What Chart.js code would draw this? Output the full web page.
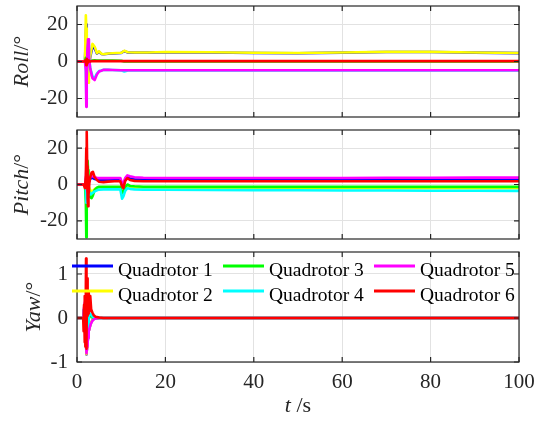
<!DOCTYPE html>
<html>
<head>
<meta charset="utf-8">
<script src="https://cdn.jsdelivr.net/npm/chart.js@4.4.0/dist/chart.umd.min.js"></script>
<style>
html, body { margin: 0; padding: 0; background: #fff; }
#wrap { position: relative; width: 545px; height: 423px; overflow: hidden; }
canvas { position: absolute; left: 0; }
</style>
</head>
<body>
<div id="wrap">
  <canvas id="rollChart" width="545" height="124" style="top:0px"></canvas>
  <canvas id="pitchChart" width="545" height="122" style="top:124px"></canvas>
  <canvas id="yawChart" width="545" height="177" style="top:246px"></canvas>
</div>
<script>
// --- datos ---
const labels = ['Quadrotor 1', 'Quadrotor 2', 'Quadrotor 3', 'Quadrotor 4', 'Quadrotor 5', 'Quadrotor 6'];
const colors = ['#0000ff', '#ffff00', '#00ff00', '#00ffff', '#ff00ff', '#ff0000'];
const xTicks = [0, 20, 40, 60, 80, 100];
const angleTicks = [-20, 0, 20];
const yawTicks = [-1, 0, 1];

// Roll
const tRoll = [0, 1.8, 2.0, 2.1, 2.2, 2.35, 2.5, 2.7, 3.0, 3.5, 4.0, 4.5, 5.0, 5.5, 6.0, 7.0, 8.0, 10, 10.7, 11.5, 13, 16, 20, 30, 40, 50, 60, 70, 80, 90, 100];
const roll1 = [0, 0, 15, 20, 8, -5, -8, -2, 2.5, 8, 7, 4.3, 5.2, 4.1, 3.9, 4.2, 4.4, 4.6, 5.6, 4.9, 4.8, 4.8, 5.0, 4.9, 4.6, 4.5, 4.8, 5.1, 5.1, 4.8, 4.5];
const roll2 = [0, 0, 25, 18, 5, -8, -11.5, -3, 3, 9.5, 8, 4.5, 5.5, 4.2, 3.9, 4.3, 4.5, 4.7, 5.8, 5.0, 4.9, 4.9, 5.1, 5.0, 4.7, 4.6, 4.9, 5.2, 5.2, 4.9, 4.6];
const roll3 = [0, 0, 2, -3, 2, -1, 1, 0.5, 0.3, 0.5, 0.6, 0.5, 0.5, 0.5, 0.5, 0.5, 0.5, 0.4, 0, 0, 0, 0, 0, 0, 0, 0, 0, 0, 0, 0, 0];
const roll4 = [0, 0, -3, -18, -8, 4, 9, 2, -3.5, -8, -9, -6.5, -5.2, -4.9, -4.5, -4.5, -4.6, -4.8, -5.4, -4.9, -4.8, -4.8, -4.8, -4.8, -4.8, -4.8, -4.8, -4.8, -4.8, -4.8, -4.8];
const roll5 = [0, 0, -5, -24.5, -10, 6, 12, 3, -4, -9, -10, -7, -5.4, -5.0, -4.5, -4.5, -4.6, -4.7, -4.7, -4.7, -4.7, -4.7, -4.7, -4.7, -4.7, -4.7, -4.7, -4.7, -4.7, -4.7, -4.7];
const roll6 = [0, 0, 1, -2, 1.5, -1, 0.5, 0, 0, 0.3, 0.2, 0.2, 0.2, 0.2, 0.2, 0.2, 0.2, 0.2, 0.2, 0.2, 0.2, 0.2, 0.2, 0.2, 0.2, 0.2, 0.2, 0.2, 0.2, 0.2, 0.2];

// Pitch
const tPitch = [0, 1.5, 1.8, 2.0, 2.1, 2.2, 2.3, 2.4, 2.5, 2.6, 2.8, 3.0, 3.3, 3.6, 4.0, 4.5, 5.0, 6.0, 7.0, 8.5, 9.8, 10.2, 10.5, 10.9, 11.4, 12.0, 13.0, 15, 20, 30, 40, 50, 60, 70, 80, 90, 100];
const pitch1 = [0, 0, 0, 1, 5, 2, -2, -3, -1, 1, 2, 3, 4, 3.5, 3, 2.7, 2.6, 2.6, 2.6, 2.6, 2.6, -0.5, 0, 2.5, 3.8, 3.3, 2.9, 2.7, 2.6, 2.6, 2.6, 2.6, 2.6, 2.6, 2.6, 2.6, 2.6];
const pitch2 = [0, 0, 0, -2, -6, -3, 2, 3, 1, -1, -2, -3, -4, -3.5, -2.5, -2, -1.8, -1.8, -1.8, -1.8, -1.8, -5.5, -4.5, -2, -0.8, -1.4, -1.7, -1.8, -1.8, -1.8, -1.9, -2.0, -2.0, -2.0, -2.0, -2.0, -2.0];
const pitch3 = [0, 0, 0, -10, -29, -15, 5, 13, 8, 0, -5, -7, -7.5, -6, -3, -1.8, -1.2, -1.2, -1.2, -1.2, -1.2, -4.5, -4, -1.5, 0, -0.8, -1.0, -1.2, -1.3, -1.3, -1.3, -1.3, -1.3, -1.3, -1.3, -1.3, -1.3];
const pitch4 = [0, 0, 0, -3, -10, -6, 2, 3, 0, -3, -5, -5.5, -5, -4.5, -3.8, -3.2, -2.8, -2.7, -2.7, -2.7, -2.7, -7.8, -6.5, -3.5, -2, -2.4, -2.7, -2.8, -2.9, -3.0, -3.1, -3.2, -3.3, -3.3, -3.4, -3.4, -3.5];
const pitch5 = [0, 0, 0, 2, 8, 4, -3, -4, -1, 1, 3, 4, 5, 4.5, 4, 3.7, 3.5, 3.5, 3.5, 3.6, 3.6, 0.5, 1, 3.5, 5, 4.5, 4, 3.7, 3.6, 3.6, 3.6, 3.6, 3.6, 3.7, 3.7, 3.8, 3.8];
const pitch6 = [0, 0, -2, 5, 20, 29, 10, -8, -12, -6, 1, 4, 6.5, 7, 4, 2.5, 1.5, 1.3, 1.6, 1.8, 1.8, -1, -2, 2, 3.5, 2.5, 2.0, 1.8, 1.8, 1.8, 1.8, 1.8, 1.8, 1.8, 1.8, 1.8, 1.8];

// Yaw
const tYaw = [0, 1.4, 1.5, 1.6, 1.7, 1.8, 1.9, 2.0, 2.05, 2.1, 2.15, 2.2, 2.3, 2.4, 2.5, 2.6, 2.7, 2.8, 3.0, 3.2, 3.5, 3.8, 4.2, 5.0, 6.0, 8, 10, 20, 40, 60, 80, 100];
const yaw1 = [0, 0, 0.05, 0.2, 0.3, 0.18, -0.1, -0.42, -0.62, -0.8, -0.83, -0.8, -0.66, -0.55, -0.45, -0.37, -0.3, -0.24, -0.16, -0.1, -0.05, -0.02, -0.01, 0, 0, 0, 0, 0, 0, 0, 0, 0];
const yaw2 = [0, 0, 0.05, 0.15, 0.25, 0.15, -0.1, -0.4, -0.6, -0.78, -0.82, -0.8, -0.66, -0.55, -0.45, -0.37, -0.3, -0.24, -0.16, -0.1, -0.05, -0.02, -0.01, 0, 0, 0, 0, 0, 0, 0, 0, 0];
const yaw3 = [0, 0, 0.05, 0.2, 0.3, 0.15, -0.1, -0.35, -0.5, -0.6, -0.6, -0.5, -0.35, -0.2, -0.08, 0, 0.05, 0.06, 0.05, 0.03, 0.01, 0, 0, 0, 0, 0, 0, 0, 0, 0, 0, 0];
const yaw4 = [0, 0, 0.05, 0.2, 0.3, 0.15, -0.1, -0.35, -0.5, -0.6, -0.62, -0.55, -0.4, -0.25, -0.1, 0.02, 0.08, 0.1, 0.1, 0.07, 0.03, 0.01, 0, 0, 0, 0, 0, 0, 0, 0, 0, 0];
const yaw5 = [0, 0, 0.1, 0.25, 0.35, 0.2, -0.1, -0.4, -0.6, -0.75, -0.8, -0.78, -0.65, -0.55, -0.45, -0.38, -0.3, -0.25, -0.17, -0.12, -0.06, -0.03, -0.01, 0, 0, 0, 0, 0, 0, 0, 0, 0];
const yaw6 = [0, 0, -0.3, 0.3, -0.55, 0.5, -0.65, 0.7, 1.35, -0.7, 1.0, -0.5, 0.9, 0.05, 0.6, 0.1, 0.58, 0.15, 0.5, 0.2, 0.12, 0.06, 0.03, 0.01, 0, 0, 0, 0, 0, 0, 0, 0];

// --- estilo ---
const FONT = "'Liberation Serif', 'Times New Roman', serif";
const INK = '#262626';
const GRID = '#e2e2e2';
Chart.defaults.font.family = FONT;

// texto con partes en cursiva / normal
function drawMixed(ctx, parts, size, cx, cy, rotate) {
    ctx.save();
    ctx.translate(cx, cy);
    if (rotate) ctx.rotate(-Math.PI / 2);
    const fonts = parts.map(p => (p[1] ? 'italic ' : '') + size + 'px ' + FONT);
    const widths = parts.map((p, i) => { ctx.font = fonts[i]; return ctx.measureText(p[0]).width; });
    let x = -widths.reduce((a, b) => a + b, 0) / 2;
    ctx.textAlign = 'left';
    ctx.textBaseline = 'middle';
    ctx.fillStyle = INK;
    parts.forEach((p, i) => { ctx.font = fonts[i]; ctx.fillText(p[0], x, 0); x += widths[i]; });
    ctx.restore();
}

// marco, ticks hacia dentro, títulos y leyenda
const framePlugin = {
    id: 'frame',
    afterDraw(chart, args, opts) {
        const { ctx, chartArea: a, scales } = chart;
        ctx.save();
        ctx.strokeStyle = INK;
        ctx.lineWidth = 1.2;
        ctx.strokeRect(a.left, a.top, a.right - a.left, a.bottom - a.top);
        ctx.beginPath();
        scales.x.ticks.forEach(t => {
            const px = scales.x.getPixelForValue(t.value);
            ctx.moveTo(px, a.bottom); ctx.lineTo(px, a.bottom - 5);
            ctx.moveTo(px, a.top); ctx.lineTo(px, a.top + 5);
        });
        scales.y.ticks.forEach(t => {
            const py = scales.y.getPixelForValue(t.value);
            ctx.moveTo(a.left, py); ctx.lineTo(a.left + 5, py);
            ctx.moveTo(a.right, py); ctx.lineTo(a.right - 5, py);
        });
        ctx.stroke();
        ctx.restore();

        drawMixed(ctx, opts.yTitle, 22, a.left - opts.yTitleOffset, (a.top + a.bottom) / 2, true);

        if (opts.xTitle) {
            drawMixed(ctx, opts.xTitle, 22, (a.left + a.right) / 2, a.bottom + 44, false);
        }

        if (opts.legend) {
            // orden por columnas: 1,2 | 3,4 | 5,6
            ctx.save();
            ctx.font = '19.5px ' + FONT;
            ctx.textBaseline = 'alphabetic';
            ctx.textAlign = 'left';
            labels.forEach((lab, i) => {
                const col = Math.floor(i / 2), row = i % 2;
                const x0 = a.left - 5 + col * 151;
                const y0 = a.top + 14 + row * 25;
                ctx.strokeStyle = colors[i];
                ctx.lineWidth = 3;
                ctx.beginPath();
                ctx.moveTo(x0, y0); ctx.lineTo(x0 + 41, y0);
                ctx.stroke();
                ctx.fillStyle = '#000';
                ctx.fillText(lab, x0 + 46, y0 + 10);
            });
            ctx.restore();
        }
    }
};

function makeDatasets(t, series) {
    // Q6 encima (el primer dataset se dibuja arriba en Chart.js)
    return series.map((vals, i) => ({
        label: labels[i],
        data: t.map((x, k) => ({ x: x, y: vals[k] })),
        borderColor: colors[i],
        borderWidth: 2.6,
        pointRadius: 0,
        tension: 0,
        fill: false,
        borderJoinStyle: 'round'
    })).reverse();
}

function makeChart(id, t, series, yMin, yMax, yTicks, frameOpts, bottomAxis, xHeight) {
    return new Chart(document.getElementById(id), {
        type: 'line',
        data: { datasets: makeDatasets(t, series) },
        options: {
            responsive: false,
            animation: false,
            events: [],
            layout: { padding: { top: 6, right: 26, left: 0, bottom: 0 } },
            plugins: {
                legend: { display: false },
                tooltip: { enabled: false },
                frame: frameOpts
            },
            scales: {
                x: {
                    type: 'linear',
                    min: 0,
                    max: 100,
                    afterBuildTicks: s => { s.ticks = xTicks.map(v => ({ value: v })); },
                    afterFit: s => { s.height = xHeight; s.paddingLeft = 0; s.paddingRight = 0; },
                    grid: { color: GRID, drawTicks: false },
                    border: { display: false },
                    ticks: {
                        display: bottomAxis,
                        padding: 8,
                        color: INK,
                        font: { size: 21 },
                        maxRotation: 0
                    }
                },
                y: {
                    min: yMin,
                    max: yMax,
                    afterBuildTicks: s => { s.ticks = yTicks.map(v => ({ value: v })); },
                    afterFit: s => { s.width = 77; s.paddingTop = 0; s.paddingBottom = 0; },
                    grid: { color: GRID, drawTicks: false },
                    border: { display: false },
                    ticks: { padding: 9, color: INK, font: { size: 21 } }
                }
            }
        },
        plugins: [framePlugin]
    });
}

makeChart('rollChart', tRoll, [roll1, roll2, roll3, roll4, roll5, roll6], -30, 30, angleTicks,
    { yTitle: [['Roll', true], ['/°', false]], yTitleOffset: 55 }, false, 7);

makeChart('pitchChart', tPitch, [pitch1, pitch2, pitch3, pitch4, pitch5, pitch6], -30, 30, angleTicks,
    { yTitle: [['Pitch', true], ['/°', false]], yTitleOffset: 55 }, false, 7);

makeChart('yawChart', tYaw, [yaw1, yaw2, yaw3, yaw4, yaw5, yaw6], -1, 1.5, yawTicks,
    { yTitle: [['Yaw', true], ['/°', false]], yTitleOffset: 43, xTitle: [['t', true], [' /s', false]], legend: true }, true, 61);
</script>
</body>
</html>
